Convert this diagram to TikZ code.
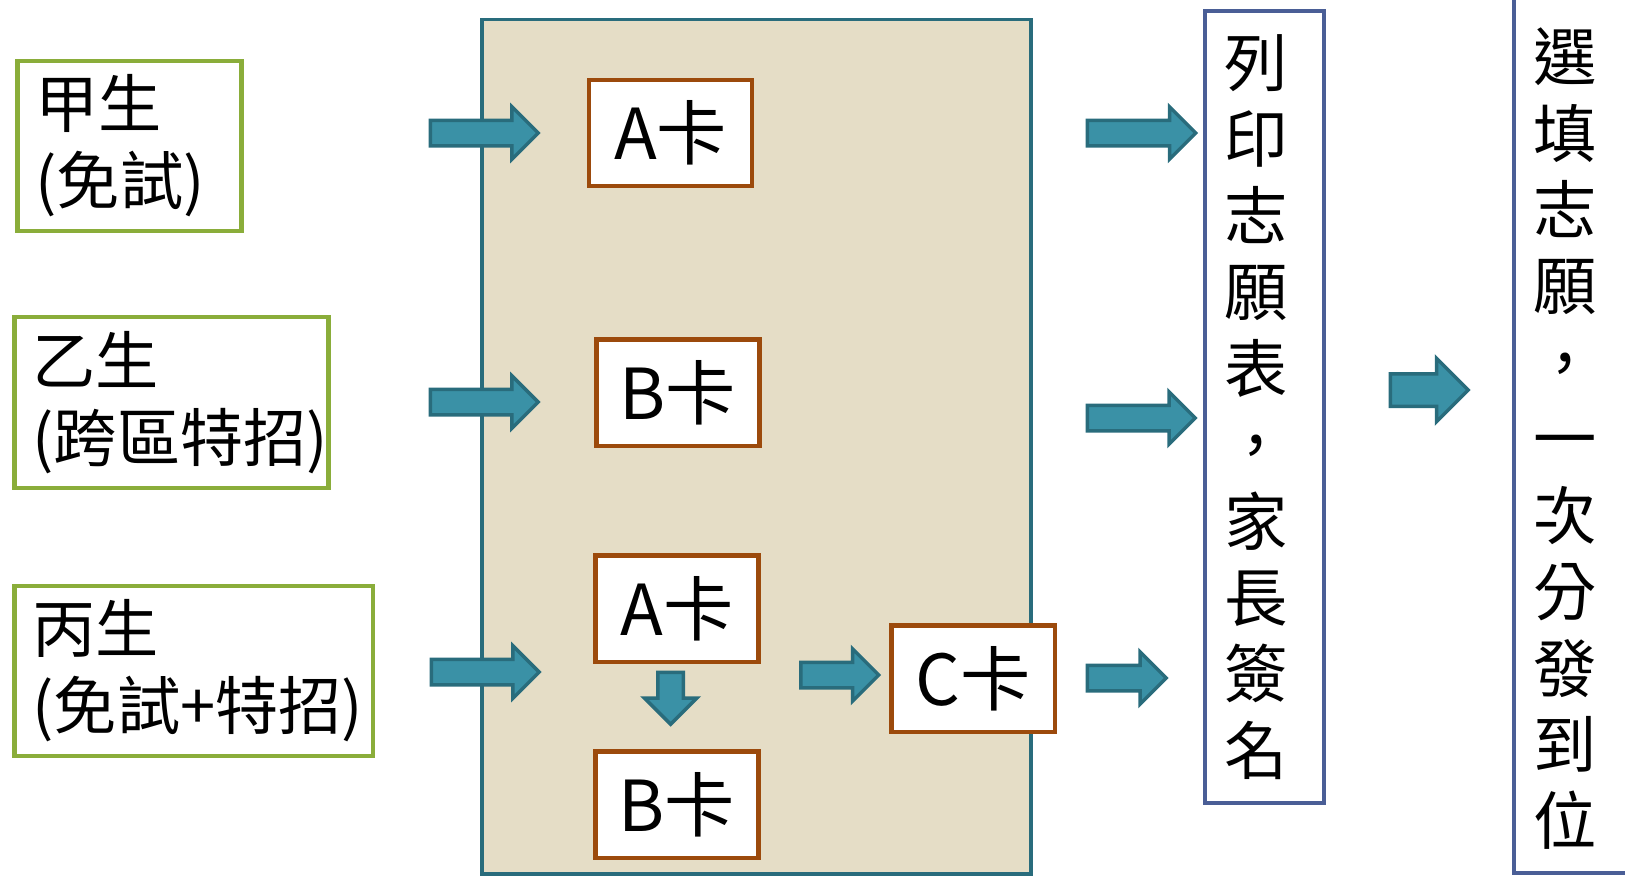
\documentclass[tikz,border=0pt]{standalone}
\usepackage{fontspec}
\setmainfont{Noto Sans CJK TC}
\usepackage{tikz}
\usetikzlibrary{shapes.arrows}
\definecolor{verde}{HTML}{8AAD3A}
\definecolor{ruggine}{HTML}{9C4A0C}
\definecolor{blu}{HTML}{4A5E96}
\definecolor{sabbia}{HTML}{E5DDC6}
\definecolor{petrolio}{HTML}{296C7C}
\definecolor{acqua}{HTML}{3A91A6}
\tikzset{
student node/.style={draw=verde,line width=0.085cm,align=left,inner xsep=0.36cm,minimum height=3.41cm,font=\fontsize{36pt}{43.7pt}\selectfont},
card node/.style={draw=ruggine,fill=white,line width=0.09cm,minimum width=3.27cm,minimum height=2.13cm,inner sep=0pt,font=\fontsize{40pt}{48pt}\selectfont},
tall node/.style={draw=blu,fill=white,line width=0.08cm,align=left,text width=1.59cm,inner xsep=0.39cm,inner ysep=0pt,font=\fontsize{36pt}{43.5pt}\selectfont},
freccia/.style={single arrow,draw=petrolio,fill=acqua,line width=0.07cm,anchor=tail,single arrow tip angle=90,inner xsep=0pt,inner ysep=0.22cm,single arrow head extend=0.27cm},
frecciona/.style={freccia,inner ysep=0.29cm,single arrow head extend=0.31cm}}

\begin{document}
\begin{tikzpicture}[x=0.02cm,y=-0.02cm]

\useasboundingbox (0,0) rectangle (1625,877);
\clip (0,0) rectangle (1625,877);

\node[draw=petrolio,fill=sabbia,line width=0.07cm,minimum width=10.99cm,minimum height=17.1cm] (box) at (756.5,446.8) {};

\node[student node,text width=3.76cm] (jia) at (129.5,146) {甲生\\(免試)};
\node[student node,text width=5.56cm] (yi) at (171.5,402.5) {乙生\\(跨區特招)};
\node[student node,text width=6.45cm] (bing) at (193.7,671) {丙生\\(免試+特招)};

\node[card node] (a1) at (670.5,133) {A卡};
\node[card node] (b1) at (678,392.5) {B卡};
\node[card node] (a2) at (677,608.7) {A卡};
\node[card node] (b2) at (677,804.5) {B卡};
\node[card node] (c) at (973,678.5) {C卡};

\node[tall node,minimum height=15.83cm] (list) at (1264.3,407) {列\\印\\志\\願\\表\\，\\家\\長\\簽\\名};
\node[tall node,minimum height=18.89cm] (fill) at (1573.3,400.7) {\phantom{選}\\選\\填\\志\\願\\，\\一\\次\\分\\發\\到\\位};

\node[freccia,minimum height=2.16cm] (f1) at (428.5,133) {};
\node[freccia,minimum height=2.16cm] (f2) at (428.5,402) {};
\node[freccia,minimum height=2.16cm] (f3) at (429.5,672) {};
\node[freccia,minimum height=1.04cm,shape border rotate=270,inner xsep=0.22cm,inner ysep=0pt] (giu) at (670.6,670.5) {};
\node[freccia,minimum height=1.56cm] (fc) at (799,675) {};

\node[freccia,minimum height=2.17cm] (g1) at (1085.5,133) {};
\node[freccia,minimum height=2.16cm] (g2) at (1085.5,418) {};
\node[freccia,minimum height=1.58cm] (g3) at (1085.5,678) {};

\node[frecciona,minimum height=1.56cm] (fin) at (1388.5,390) {};

\end{tikzpicture}
\end{document}
